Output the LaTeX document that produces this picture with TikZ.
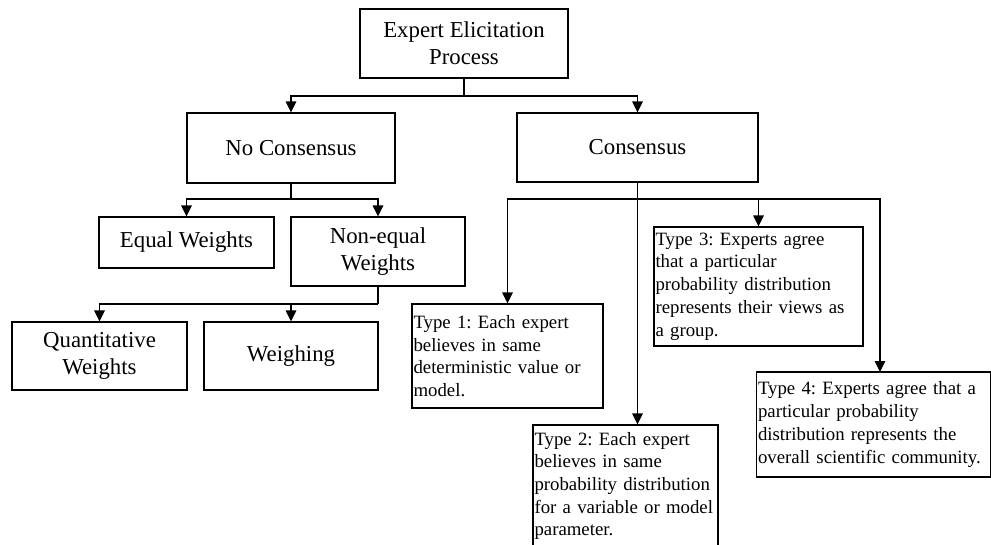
\documentclass[tikz,border=0pt]{standalone}
\usepackage{fontspec}
\setmainfont{Liberation Serif}
\usetikzlibrary{arrows.meta}
\frenchspacing
\newcommand{\fbig}{\fontsize{22.8}{26.7}\selectfont}
\newcommand{\fsmall}{\fontsize{18.8}{22.7}\selectfont\frenchspacing\hyphenpenalty=10000 }
\tikzset{
  bbox/.style={draw, line width=1.1pt, rectangle, inner sep=3pt, align=center, font=\fbig},
  tbox/.style={draw, line width=1.1pt, rectangle, inner xsep=1.5pt, inner ysep=2pt, align=left, font=\fsmall},
  conn/.style={line width=1.1pt},
  arr/.style={line width=1.1pt, -{Triangle[width=10.5pt,length=11pt]}}
}
\begin{document}
\begin{tikzpicture}[x=1pt,y=-1pt]
\useasboundingbox (0,0) rectangle (991,544);
% main boxes
\node[bbox, minimum width=208pt, minimum height=69pt] (eep) at (464,43.5) {Expert Elicitation\\Process};
\node[bbox, minimum width=208pt, minimum height=70pt] (nocons) at (291,148) {No Consensus};
\node[bbox, minimum width=241pt, minimum height=69pt] (cons) at (637.5,147.5) {Consensus};
\node[bbox, minimum width=175pt, minimum height=51pt] (equal) at (186.5,242.5) {Equal Weights};
\node[bbox, minimum width=174pt, minimum height=69pt] (noneq) at (378,251.5) {Non-equal\\Weights};
\node[bbox, minimum width=175pt, minimum height=68pt] (quant) at (99.5,356) {Quantitative\\Weights};
\node[bbox, minimum width=174pt, minimum height=68pt] (weigh) at (291,356) {Weighing};
% type boxes
\node[tbox, text width=188pt, minimum height=104pt] (t1) at (507.5,356) {\mbox{Type 1: Each expert}\\\mbox{believes in same}\\\mbox{deterministic value or}\\\mbox{model.}};
\node[tbox, text width=182pt, minimum height=122pt] (t2) at (625.5,486) {\mbox{Type 2: Each expert}\\\mbox{believes in same}\\\mbox{probability distribution}\\\mbox{for a variable or model}\\\mbox{parameter.}};
\node[tbox, text width=206pt, minimum height=119pt] (t3) at (758.5,286.5) {\mbox{Type 3: Experts agree}\\\mbox{that a particular}\\\mbox{probability distribution}\\\mbox{represents their views as}\\\mbox{a group.}};
\node[tbox, text width=231pt, minimum height=105pt] (t4) at (873.5,424.5) {\mbox{Type 4: Experts agree that a}\\\mbox{particular probability}\\\mbox{distribution represents the}\\\mbox{overall scientific community.}};
% junction coordinates
\coordinate (h1) at (464,96);
\coordinate (h2) at (291,199);
\coordinate (h3) at (378,304);
\coordinate (h4) at (637.5,199);
\coordinate (t4a) at (880,372);
% connectors
\draw[conn] (eep.south) -- (h1);
\draw[arr] (h1) -| (nocons.north);
\draw[arr] (h1) -| (cons.north);
\draw[conn] (nocons.south) -- (h2);
\draw[arr] (h2) -| (equal.north);
\draw[arr] (h2) -| (noneq.north);
\draw[conn] (noneq.south) -- (h3);
\draw[arr] (h3) -| (quant.north);
\draw[arr] (h3) -| (weigh.north);
\draw[arr] (cons.south) -- (cons.south |- t2.north);
\draw[arr] (h4) -| (t1.north);
\draw[arr] (h4) -| (t3.north);
\draw[arr] (h4) -| (t4a);
\end{tikzpicture}
\end{document}
